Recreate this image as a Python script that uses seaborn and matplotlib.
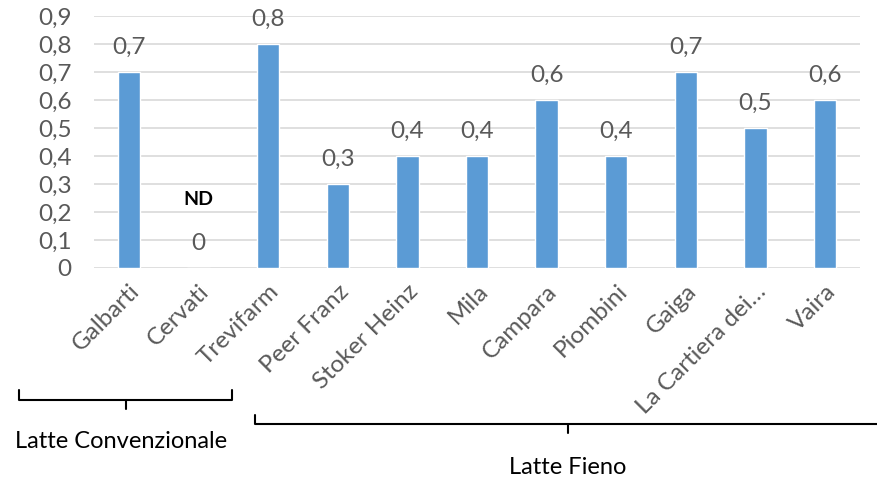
import matplotlib
matplotlib.use("Agg")
import matplotlib.pyplot as plt
import seaborn as sns
import pandas as pd
from matplotlib.ticker import FuncFormatter, MultipleLocator
from matplotlib.lines import Line2D

categories = ["Galbarti", "Cervati", "Trevifarm", "Peer Franz", "Stoker Heinz", "Mila",
              "Campara", "Piombini", "Gaiga", "La Cartiera dei…", "Vaira"]
values = [0.7, 0.0, 0.8, 0.3, 0.4, 0.4, 0.6, 0.4, 0.7, 0.5, 0.6]
group_labels = ["Latte Convenzionale", "Latte Fieno"]
nd_label = "ND"

sns.set_theme(style="white")
plt.rcParams['font.family'] = ['Lato', 'DejaVu Sans']

W, H = 877, 484
fig = plt.figure(figsize=(W / 100, H / 100), dpi=100)
ax = fig.add_axes([94 / W, (H - 268) / H, (860 - 94) / W, (268 - 16) / H])

df = pd.DataFrame({"cat": categories, "val": values})
sns.barplot(data=df, x="cat", y="val", color="#5B9BD5", width=0.32, saturation=1, ax=ax, zorder=3)

ax.set_ylim(0, 0.9)
ax.set_xlim(-0.5, len(categories) - 0.5)
ax.yaxis.set_major_locator(MultipleLocator(0.1))
ax.yaxis.set_major_formatter(FuncFormatter(lambda v, p: ("%.1f" % v).replace(".", ",") if round(v, 3) != 0 else "0"))
ax.grid(axis="y", color="#D9D9D9", lw=1.2, zorder=0)
ax.set_axisbelow(True)
for s in ax.spines.values():
    s.set_visible(False)
ax.set_xlabel("")
ax.set_ylabel("")
ax.tick_params(axis="both", length=0, labelsize=17.5, colors="#595959")
ax.tick_params(axis="y", pad=16)
ax.tick_params(axis="x", pad=9)
for lab in ax.get_xticklabels():
    lab.set_rotation(45)
    lab.set_ha("right")
    lab.set_rotation_mode("anchor")

for i, v in enumerate(values):
    txt = ("%.1f" % v).replace(".", ",") if v != 0 else "0"
    ax.annotate(txt, (i, v), xytext=(0, 18), textcoords="offset points",
                ha="center", va="center", fontsize=17.5, color="#595959")
ax.annotate(nd_label, (1, 0), xytext=(0, 49), textcoords="offset points",
            ha="center", va="center", fontsize=14, fontweight="bold", color="black")

T = fig.transFigure
def fx(x): return x / W
def fy(y): return (H - y) / H

# bracket 1
fig.add_artist(Line2D([fx(19), fx(19), fx(232), fx(232)], [fy(390), fy(400), fy(400), fy(390)],
                      transform=T, color="black", lw=1.5))
fig.add_artist(Line2D([fx(126), fx(126)], [fy(400), fy(409)], transform=T, color="black", lw=1.5))
fig.text(fx(121), fy(441), group_labels[0], ha="center", va="center", fontsize=17, color="black")

# bracket 2
fig.add_artist(Line2D([fx(255), fx(255), fx(877)], [fy(415), fy(424), fy(424)],
                      transform=T, color="black", lw=1.5))
fig.add_artist(Line2D([fx(568), fx(568)], [fy(424), fy(433)], transform=T, color="black", lw=1.5))
fig.text(fx(568), fy(468), group_labels[1], ha="center", va="center", fontsize=17, color="black")

fig.savefig("out.png", dpi=100)
